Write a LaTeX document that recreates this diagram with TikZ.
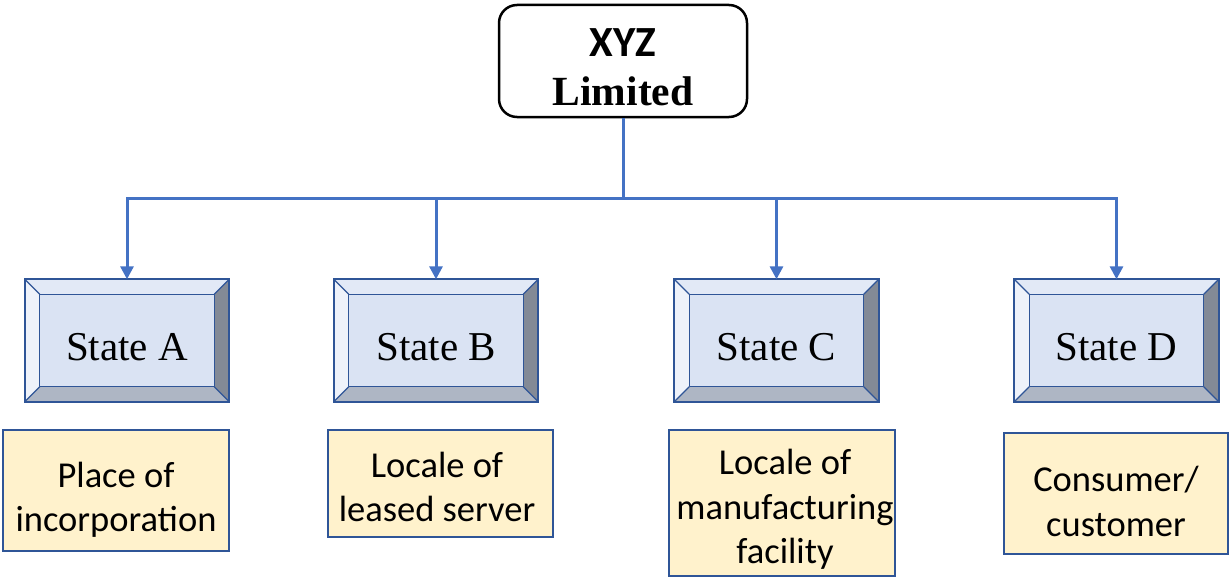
\documentclass[tikz,border=0pt]{standalone}
\usepackage{fontspec}
\setmainfont{Liberation Serif}
\newfontfamily\carlitofont{Carlito}
\usetikzlibrary{arrows.meta,calc}
\definecolor{linkblue}{HTML}{4472C4}
\definecolor{edgeblue}{HTML}{2F5597}
\definecolor{facemid}{HTML}{DAE3F3}
\definecolor{facetop}{HTML}{E2E9F6}
\definecolor{faceleft}{HTML}{EEF2FA}
\definecolor{faceright}{HTML}{838A96}
\definecolor{facebottom}{HTML}{AEB6C4}
\definecolor{noteyellow}{HTML}{FFF2CC}
\tikzset{
  x=1pt,y=-1pt,
  topbox/.style={draw=black,line width=2.5pt,rounded corners=18pt,minimum width=248pt,minimum height=112pt,align=center,inner sep=0pt},
  stateshell/.style={minimum width=204pt,minimum height=122pt,inner sep=0pt},
  statetext/.style={inner sep=0pt,font=\fontsize{41}{44}\selectfont},
  notebox/.style={draw=edgeblue,line width=1.5pt,fill=noteyellow,inner sep=0pt},
  notetext/.style={align=center,inner sep=0pt,font=\carlitofont\fontsize{36.5}{44.5}\selectfont},
  link/.style={draw=linkblue,line width=3pt},
  linkarrow/.style={link,-{Triangle[length=13pt,width=13pt]}},
  bevel/.style={draw=edgeblue,line width=1.2pt,line join=round}
}
\newcommand\bevelbox[4]{%
  \node[stateshell] (#1) at (#2) {};
  \coordinate (#1a) at ($(#1.north west)+(15,15)$);
  \coordinate (#1b) at ($(#1.north east)+(-15,15)$);
  \coordinate (#1c) at ($(#1.south east)+(-15,-15)$);
  \coordinate (#1d) at ($(#1.south west)+(15,-15)$);
  \fill[facetop] (#1.north west) -- (#1.north east) -- (#1b) -- (#1a) -- cycle;
  \fill[faceleft] (#1.north west) -- (#1a) -- (#1d) -- (#1.south west) -- cycle;
  \fill[faceright] (#1.north east) -- (#1.south east) -- (#1c) -- (#1b) -- cycle;
  \fill[facebottom] (#1.south west) -- (#1d) -- (#1c) -- (#1.south east) -- cycle;
  \fill[facemid] (#1a) rectangle (#1c);
  \draw[bevel] (#1a) rectangle (#1c);
  \draw[bevel] (#1.north west) -- (#1a) (#1.north east) -- (#1b) (#1.south east) -- (#1c) (#1.south west) -- (#1d);
  \draw[draw=edgeblue,line width=2pt] (#1.north west) rectangle (#1.south east);
  \node[statetext] (#1t) at ($(#1.center)+(0,6.5)$) {#4};
}
\begin{document}
\begin{tikzpicture}
\useasboundingbox (0,0) rectangle (1230,578);
\node[topbox] (top) at (623,61) {};
\node[font=\carlitofont\bfseries\fontsize{43}{43}\selectfont] (xyz) at (623,43) {XYZ};
\node[font=\bfseries\fontsize{41.5}{41.5}\selectfont] (lim) at (623,91) {Limited};
\coordinate (bus) at (623,198);
\draw[link] (top.south) -- (bus);

\bevelbox{sa}{127,340.5}{}{State A}
\bevelbox{sb}{436,340.5}{}{State B}
\bevelbox{sc}{776.5,340.5}{}{State C}
\bevelbox{sd}{1116.5,340.5}{}{State D}

\draw[linkarrow] (bus) -| (sa.north);
\draw[linkarrow] (bus) -| (sb.north);
\draw[linkarrow] (bus) -| (sc.north);
\draw[linkarrow] (bus) -| (sd.north);

\node[notebox,minimum width=226pt,minimum height=121pt] (na) at (116,490.5) {};
\node[notetext] (nat) at (116,500) {Place of\\incorporation};
\node[notebox,minimum width=225pt,minimum height=107pt] (nb) at (440.5,483.5) {};
\node[notetext] (nbt) at (437,487) {Locale of\\leased server};
\node[notebox,minimum width=226pt,minimum height=146pt] (nc) at (782,503) {};
\node[notetext] (nct) at (785,509.5) {Locale of\\manufacturing\\facility};
\node[notebox,minimum width=224pt,minimum height=121pt] (nd) at (1116,493.5) {};
\node[notetext] (ndt) at (1116,501.5) {Consumer/\\customer};
\end{tikzpicture}
\end{document}
